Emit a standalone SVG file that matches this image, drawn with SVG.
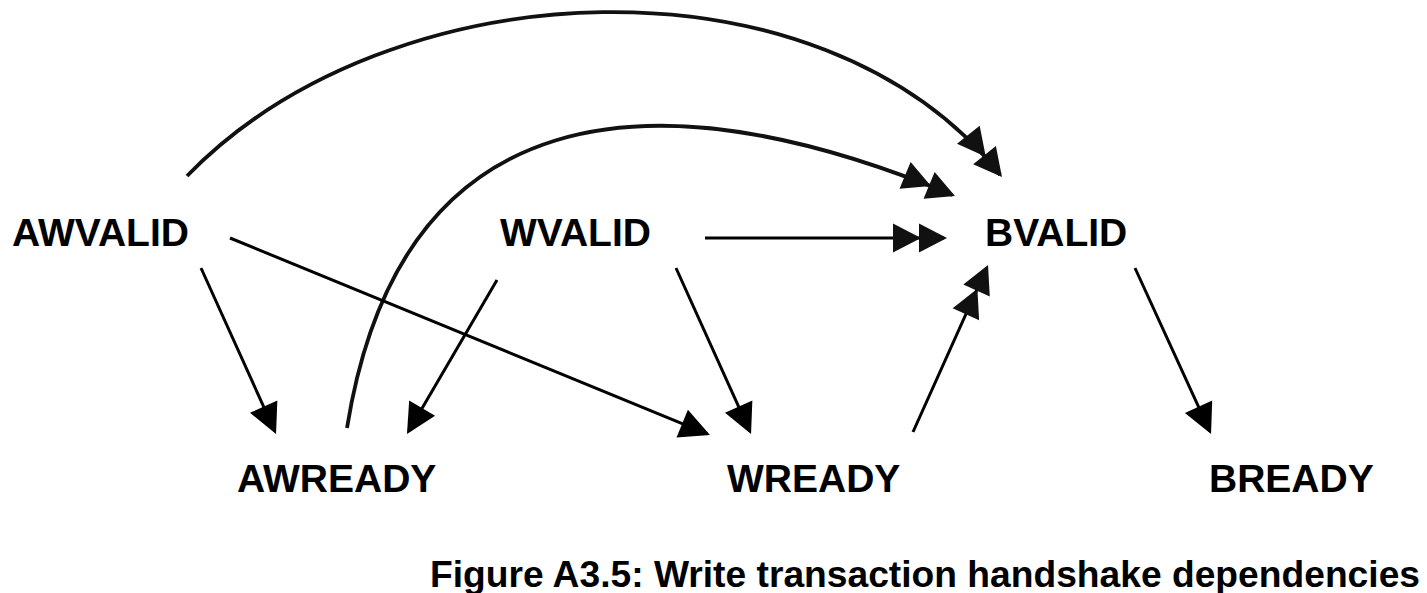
<svg xmlns="http://www.w3.org/2000/svg" width="1427" height="593" viewBox="0 0 1427 593">
<style>
.lbl{font-family:"Liberation Sans",Arial,sans-serif;font-weight:bold;font-size:39px;fill:#000}
.cap{font-family:"Liberation Sans",Arial,sans-serif;font-weight:bold;font-size:37px;fill:#000}
.ln{fill:none;stroke:#000;stroke-width:3}
.arc{fill:none;stroke:#111;stroke-width:3.8}
</style>
<defs>
<marker id="a1" markerUnits="userSpaceOnUse" markerWidth="60" markerHeight="40" refX="0" refY="0" orient="auto" overflow="visible">
<path d="M3,0 L-27,-15 L-27,15 Z" fill="#000"/>
</marker>
<marker id="a2" markerUnits="userSpaceOnUse" markerWidth="80" markerHeight="40" refX="0" refY="0" orient="auto" overflow="visible">
<path d="M3,0 L-25,-14.5 L-25,14.5 Z M-23,0 L-51,-14.5 L-51,14.5 Z" fill="#111"/>
</marker>
</defs>
<g id="connectors">
<path class="arc" d="M187,176 C390,-33 820,-51.5 1000.1,174.7" marker-end="url(#a2)"/>
<path class="arc" d="M347,428 C400,98 648,69 952.2,194.9" marker-end="url(#a2)"/>
<path class="ln" d="M201,268 L274.8,431.3" marker-end="url(#a1)"/>
<path class="ln" d="M497,280 L408.5,431.4" marker-end="url(#a1)"/>
<path class="ln" d="M230,238 L707.2,433.9" marker-end="url(#a1)"/>
<path class="ln" d="M676,268 L749.8,431.3" marker-end="url(#a1)"/>
<path class="ln" d="M913,432 L986.8,267.7" marker-end="url(#a2)"/>
<path class="ln" d="M1135,268 L1209.8,431.3" marker-end="url(#a1)"/>
<path class="ln" d="M705,238 L944,238" marker-end="url(#a2)"/>
</g>
<g id="AWVALID"><text class="lbl" x="12" y="246">AWVALID</text></g>
<g id="WVALID"><text class="lbl" x="500" y="246">WVALID</text></g>
<g id="BVALID"><text class="lbl" x="985" y="246">BVALID</text></g>
<g id="AWREADY"><text class="lbl" x="237" y="492">AWREADY</text></g>
<g id="WREADY"><text class="lbl" x="727" y="492">WREADY</text></g>
<g id="BREADY"><text class="lbl" x="1209" y="492">BREADY</text></g>
<g id="caption"><text class="cap" x="430" y="587" textLength="990" lengthAdjust="spacingAndGlyphs">Figure A3.5: Write transaction handshake dependencies</text></g>
</svg>
